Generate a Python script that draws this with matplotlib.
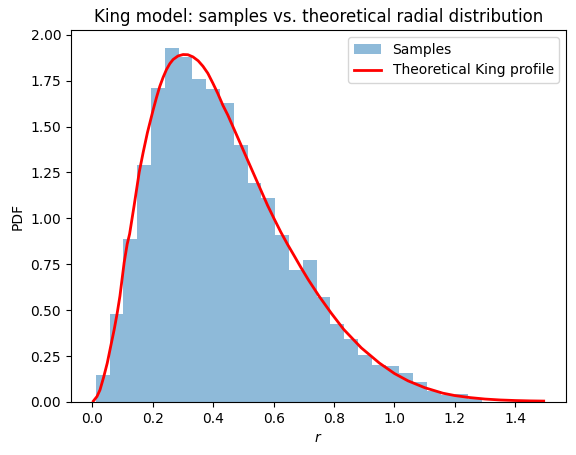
import numpy as np
import matplotlib
matplotlib.use('Agg')
import matplotlib.pyplot as plt

bin_start = 0.011
bin_width = 0.0457
counts = [0.148, 0.477, 0.888, 1.289, 1.710, 1.929, 1.880, 1.761, 1.704, 1.627,
          1.399, 1.195, 1.112, 0.910, 0.720, 0.773, 0.570, 0.422, 0.345, 0.258,
          0.203, 0.197, 0.157, 0.108, 0.062, 0.040, 0.046, 0.018]

# theoretical King profile
r_model = [0.003, 0.015, 0.025, 0.037, 0.049, 0.060, 0.072, 0.082, 0.091, 0.105,
           0.115, 0.123, 0.138, 0.155, 0.168, 0.182, 0.201, 0.212, 0.223, 0.234,
           0.245, 0.256, 0.267, 0.283, 0.300, 0.316, 0.333, 0.350, 0.366, 0.382,
           0.399, 0.415, 0.432, 0.448, 0.470, 0.492, 0.514, 0.536, 0.558, 0.580,
           0.602, 0.624, 0.646, 0.668, 0.690, 0.715, 0.750, 0.790, 0.832, 0.890,
           0.950, 1.000, 1.045, 1.100, 1.160, 1.200, 1.250, 1.300, 1.350, 1.400,
           1.450, 1.494]
pdf_model = [0.005, 0.030, 0.066, 0.135, 0.212, 0.300, 0.395, 0.485, 0.577, 0.760,
             0.860, 0.915, 1.070, 1.253, 1.360, 1.467, 1.591, 1.658, 1.719, 1.768,
             1.810, 1.842, 1.865, 1.884, 1.892, 1.891, 1.879, 1.858, 1.828, 1.790,
             1.735, 1.680, 1.615, 1.563, 1.481, 1.399, 1.316, 1.234, 1.152, 1.070,
             0.996, 0.924, 0.858, 0.796, 0.733, 0.665, 0.577, 0.485, 0.395, 0.295,
             0.212, 0.155, 0.115, 0.078, 0.048, 0.035, 0.024, 0.016, 0.011, 0.008,
             0.006, 0.005]

edges = bin_start + bin_width * np.arange(len(counts) + 1)

fig, ax = plt.subplots(figsize=(5.76, 4.55), dpi=100)
fig.subplots_adjust(left=0.123, right=0.983, top=0.934, bottom=0.1165)

ax.hist(edges[:-1], bins=edges, weights=counts, alpha=0.5, label='Samples')
ax.plot(r_model, pdf_model, 'r-', lw=2, label='Theoretical King profile')

ax.set_title('King model: samples vs. theoretical radial distribution')
ax.set_xlabel('$r$')
ax.set_ylabel('PDF')
ax.legend(loc='upper right')

fig.savefig('out.png')
